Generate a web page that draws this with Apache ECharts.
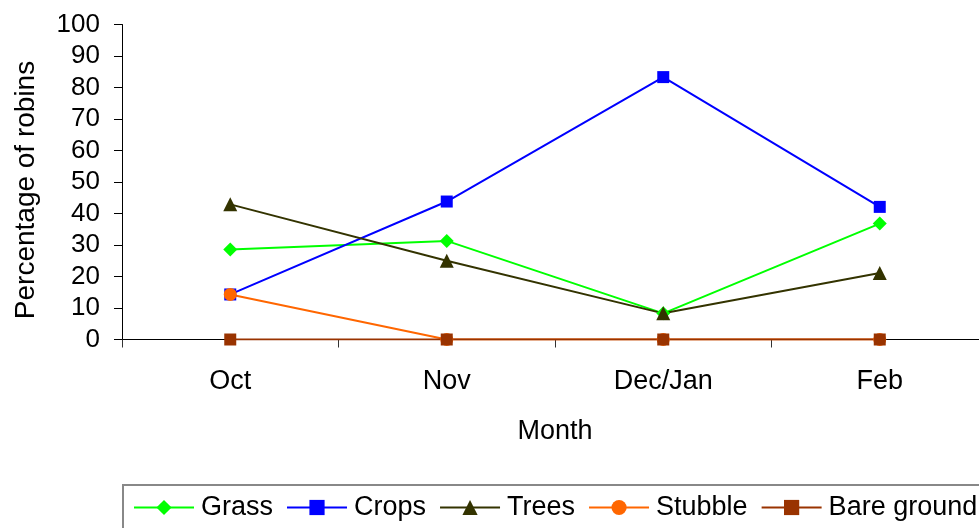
<!DOCTYPE html>
<html>
<head>
<meta charset="utf-8">
<script src="https://cdn.jsdelivr.net/npm/echarts@6/dist/echarts.min.js"></script>
<style>
  html, body { margin: 0; padding: 0; background: #ffffff; }
  #chart { width: 979px; height: 528px; }
</style>
</head>
<body>
<div id="chart"></div>
<script>
// Share of robins seen in each habitat, by month
const months = ['Oct', 'Nov', 'Dec/Jan', 'Feb'];
const grass = [28.6, 31.3, 8.3, 36.8];
const crops = [14.3, 43.8, 83.3, 42.1];
const trees = [42.9, 25.0, 8.3, 21.1];
const stubble = [14.3, 0, 0, 0];
const bareGround = [0, 0, 0, 0];

const FONT = "'Liberation Sans', Arial, sans-serif";

const seriesDefs = [
  { name: 'Grass', data: grass, color: '#00ff00', symbol: 'diamond', size: 14 },
  { name: 'Crops', data: crops, color: '#0000ff', symbol: 'rect', size: 12 },
  { name: 'Trees', data: trees, color: '#333300', symbol: 'triangle', size: 14 },
  { name: 'Stubble', data: stubble, color: '#ff6600', symbol: 'circle', size: 13 },
  { name: 'Bare ground', data: bareGround, color: '#993300', symbol: 'rect', size: 12 }
];

const chart = echarts.init(document.getElementById('chart'), null, { renderer: 'canvas' });

chart.setOption({
  animation: false,
  backgroundColor: '#ffffff',
  textStyle: { fontFamily: FONT, color: '#000' },
  grid: { left: 122, top: 24.5, width: 866, height: 315, outerBoundsMode: 'none' },
  xAxis: {
    type: 'category',
    data: months,
    boundaryGap: true,
    name: 'Month',
    nameLocation: 'middle',
    nameGap: 79,
    nameTextStyle: { fontSize: 27, color: '#000', fontFamily: FONT },
    axisLine: { show: true, lineStyle: { color: '#000', width: 1 } },
    axisTick: { show: true, interval: 0, length: 8, inside: false, lineStyle: { color: '#333' } },
    axisLabel: { fontSize: 27, color: '#000', fontFamily: FONT, margin: 29, interval: 0 },
    splitLine: { show: false }
  },
  yAxis: {
    type: 'value',
    min: 0,
    max: 100,
    interval: 10,
    name: 'Percentage of robins',
    nameLocation: 'middle',
    nameGap: 82,
    nameTextStyle: { fontSize: 28, color: '#000', fontFamily: FONT, padding: [0, 16, 0, 0] },
    axisLine: { show: true, lineStyle: { color: '#000', width: 1 } },
    axisTick: { show: true, length: 8, inside: false, lineStyle: { color: '#000' } },
    axisLabel: { fontSize: 26, color: '#000', fontFamily: FONT, margin: 22 },
    splitLine: { show: false }
  },
  legend: {
    left: 123,
    top: 485,
    width: 880,
    orient: 'horizontal',
    padding: [9, 10, 20, 10],
    itemGap: 13,
    itemWidth: 60,
    itemHeight: 19,
    borderColor: '#888888',
    borderWidth: 2,
    textStyle: { fontSize: 27, color: '#000', fontFamily: FONT, padding: [0, 0, 0, 2] },
    data: seriesDefs.map(s => s.name)
  },
  series: seriesDefs.map(s => ({
    name: s.name,
    type: 'line',
    data: s.data,
    symbol: s.symbol,
    symbolSize: s.size,
    showSymbol: true,
    lineStyle: { color: s.color, width: 2 },
    itemStyle: { color: s.color, borderWidth: 0 },
    emphasis: { disabled: true }
  }))
});
</script>
</body>
</html>
